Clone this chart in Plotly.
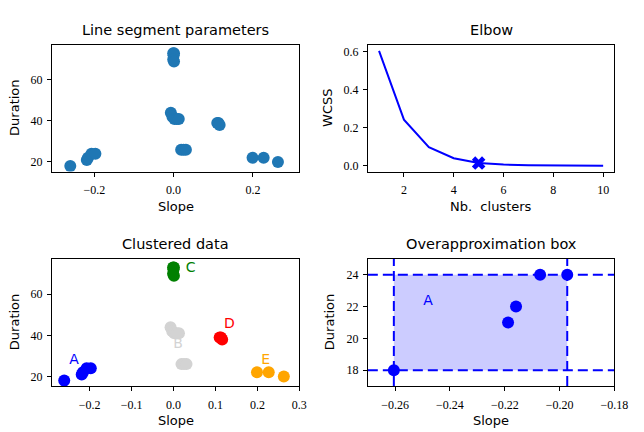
import plotly.graph_objects as go

# ---------------- data ----------------
A_slope = [-0.2605, -0.2188, -0.2159, -0.2071, -0.1972]
A_dur = [18, 21, 22, 24, 24]
B_slope = [-0.007, -0.003, 0.002, 0.008, 0.013, 0.019, 0.025, 0.031]
B_dur = [44, 42, 41, 41, 41, 26, 26, 26]
C_slope = [-0.001, 0.001, 0.0, -0.001, 0.001]
C_dur = [73, 73, 72, 70, 69]
D_slope = [0.110, 0.113, 0.116]
D_dur = [39, 39, 38]
E_slope = [0.199, 0.227, 0.263]
E_dur = [22, 22, 20]

cluster_names = ["A", "B", "C", "D", "E"]
cluster_colors = ["#0000ff", "#d3d3d3", "#008000", "#ff0000", "#ffa500"]
label_slope = [-0.237, 0.011, 0.041, 0.133, 0.220]
label_dur = [27.8, 35.5, 72.6, 45.3, 27.6]

n_clusters = [1, 2, 3, 4, 5, 6, 7, 8, 9, 10]
wcss = [0.605, 0.243, 0.099, 0.040, 0.015, 0.007, 0.004, 0.003, 0.002, 0.001]
elbow_k = 5

box_label_pos = (-0.248, 22.3)

all_slope = A_slope + B_slope + C_slope + D_slope + E_slope
all_dur = A_dur + B_dur + C_dur + D_dur + E_dur
clusters = [(A_slope, A_dur), (B_slope, B_dur), (C_slope, C_dur),
            (D_slope, D_dur), (E_slope, E_dur)]

W, H = 644, 432
MS = 12

def dx(a, b):
    return [a / W, b / W]

def dy(top, bottom):
    return [1 - bottom / H, 1 - top / H]

TICKFONT = dict(family="Liberation Serif", size=12, color="black")
SANS = "DejaVu Sans"

fig = go.Figure()

# top-left
fig.add_trace(go.Scatter(x=all_slope, y=all_dur, mode="markers",
                         marker=dict(color="#1f77b4", size=MS, line=dict(width=0)),
                         xaxis="x", yaxis="y", showlegend=False))
# top-right
fig.add_trace(go.Scatter(x=n_clusters, y=wcss, mode="lines",
                         line=dict(color="#0000ff", width=2),
                         xaxis="x2", yaxis="y2", showlegend=False))
fig.add_trace(go.Scatter(x=[elbow_k], y=[wcss[n_clusters.index(elbow_k)]], mode="markers",
                         marker=dict(color="#0000ff", size=MS, symbol="x", line=dict(width=0)),
                         xaxis="x2", yaxis="y2", showlegend=False))
# bottom-left
for (sx, sy), col in zip(clusters, cluster_colors):
    fig.add_trace(go.Scatter(x=sx, y=sy, mode="markers",
                             marker=dict(color=col, size=MS, line=dict(width=0)),
                             xaxis="x3", yaxis="y3", showlegend=False))
fig.add_trace(go.Scatter(x=label_slope, y=label_dur, mode="text", text=cluster_names,
                         textfont=dict(family=SANS, size=14, color=cluster_colors),
                         textposition="middle center",
                         xaxis="x3", yaxis="y3", showlegend=False))
# bottom-right
fig.add_trace(go.Scatter(x=A_slope, y=A_dur, mode="markers",
                         marker=dict(color="#0000ff", size=MS, line=dict(width=0)),
                         xaxis="x4", yaxis="y4", showlegend=False))
fig.add_trace(go.Scatter(x=[box_label_pos[0]], y=[box_label_pos[1]], mode="text", text=["A"],
                         textfont=dict(family=SANS, size=14, color="#0000ff"),
                         textposition="middle center",
                         xaxis="x4", yaxis="y4", showlegend=False))

xmin, xmax = min(A_slope), max(A_slope)
ymin, ymax = min(A_dur), max(A_dur)
shapes = [dict(type="rect", xref="x4", yref="y4", x0=xmin, x1=xmax, y0=ymin, y1=ymax,
               fillcolor="rgba(0,0,255,0.2)", line=dict(width=0), layer="below")]
for yv in (ymin, ymax):
    shapes.append(dict(type="line", xref="x4 domain", yref="y4", x0=0, x1=1, y0=yv, y1=yv,
                       line=dict(color="#0000ff", width=2, dash="10px,5px"), layer="below"))
for xv in (xmin, xmax):
    shapes.append(dict(type="line", xref="x4", yref="y4 domain", x0=xv, x1=xv, y0=0, y1=1,
                       line=dict(color="#0000ff", width=2, dash="10px,5px"), layer="below"))

def ax(domain, anchor, rng, tickvals, fmt, standoff):
    return dict(domain=domain, anchor=anchor, range=rng, tickvals=tickvals, tickformat=fmt,
                showline=True, mirror=True, linecolor="black", linewidth=1,
                ticks="outside", ticklen=4, tickwidth=1, tickcolor="black",
                showgrid=False, zeroline=False, tickfont=TICKFONT,
                ticklabelstandoff=standoff)

L1, R1 = 53, 306
L2, R2 = 376, 628
T1, B1 = 45, 172
T2, B2 = 259.5, 387

XS, YS = 3, 2
fig.update_layout(
    width=W, height=H, autosize=False,
    margin=dict(l=0, r=0, t=0, b=0),
    paper_bgcolor="white", plot_bgcolor="white",
    hovermode=False,
    xaxis=ax(dx(L1, R1), "y", [-0.307, 0.317], [-0.2, 0.0, 0.2], ".1f", XS),
    yaxis=ax(dy(T1, B1), "x", [15.3, 77.1], [20, 40, 60], "d", YS),
    xaxis2=ax(dx(L2, R2), "y2", [0.55, 10.45], [2, 4, 6, 8, 10], "d", XS),
    yaxis2=ax(dy(T1, B1), "x2", [-0.030, 0.636], [0.0, 0.2, 0.4, 0.6], ".1f", YS),
    xaxis3=ax(dx(L1, R1), "y3", [-0.29, 0.30], [-0.2, -0.1, 0.0, 0.1, 0.2, 0.3], ".1f", XS),
    yaxis3=ax(dy(T2, B2), "x3", [15.3, 77.2], [20, 40, 60], "d", YS),
    xaxis4=ax(dx(L2, R2), "y4", [-0.27, -0.18], [-0.26, -0.24, -0.22, -0.20, -0.18], ".2f", XS),
    yaxis4=ax(dy(T2, B2), "x4", [17, 25], [18, 20, 22, 24], "d", YS),
    shapes=shapes,
)

def ann(text, xpx, ypx, size, angle=0):
    return dict(text=text, x=xpx / W, y=1 - ypx / H,
                xref="paper", yref="paper",
                xanchor="center", yanchor="middle", showarrow=False, textangle=angle,
                font=dict(family=SANS, size=size, color="black"))

annotations = [
    ann("Line segment parameters", (L1 + R1) / 2, 30, 14.5),
    ann("Elbow", (L2 + R2) / 2, 30, 14.5),
    ann("Clustered data", (L1 + R1) / 2, 245, 14.5),
    ann("Overapproximation box", (L2 + R2) / 2, 245, 14.5),
    ann("Slope", (L1 + R1) / 2, 207, 13),
    ann("Nb.  clusters", (L2 + R2) / 2, 207, 13),
    ann("Slope", (L1 + R1) / 2, 421, 13),
    ann("Slope", (L2 + R2) / 2, 421, 13),
    ann("Duration", 15, (T1 + B1) / 2, 13, -90),
    ann("WCSS", 335, (T1 + B1) / 2, 13, -90),
    ann("Duration", 15, (T2 + B2) / 2, 13, -90),
    ann("Duration", 337, (T2 + B2) / 2, 13, -90),
]
fig.update_layout(annotations=annotations)

# remove the default page margin so the figure sits at the window's top-left corner
fig.write_html(
    "out.html",
    config={"displayModeBar": False},
    post_script="document.body.style.margin='0';document.documentElement.style.overflow='hidden';",
)
